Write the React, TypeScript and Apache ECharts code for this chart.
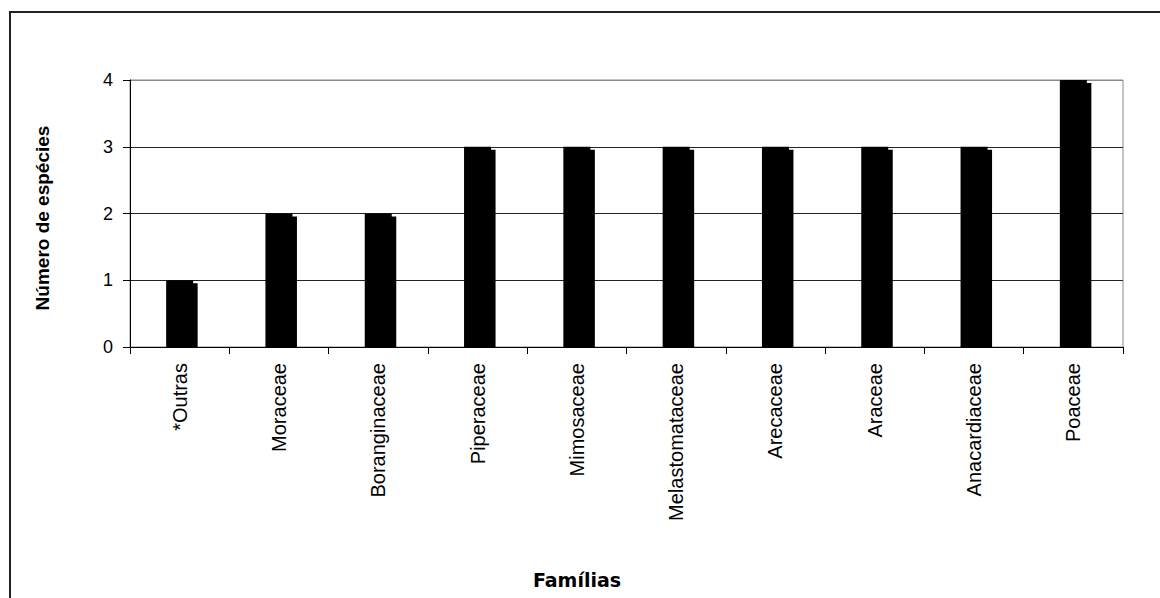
import React, { useEffect, useRef } from "react";
import * as echarts from "echarts";

const categories = [
  "*Outras",
  "Moraceae",
  "Boranginaceae",
  "Piperaceae",
  "Mimosaceae",
  "Melastomataceae",
  "Arecaceae",
  "Araceae",
  "Anacardiaceae",
  "Poaceae",
];
const values = [1, 2, 2, 3, 3, 3, 3, 3, 3, 4];
const yTicks = [0, 1, 2, 3, 4];
const yTitle = "Número de espécies";
const xTitle = "Famílias";

export default function App() {
  const ref = useRef<HTMLDivElement>(null);
  useEffect(() => {
    if (!ref.current) return;
    const chart = echarts.init(ref.current, null, { renderer: "svg" });
    const font = "'Liberation Sans', Arial, sans-serif";
    chart.setOption({
      animation: false,
      backgroundColor: "#fff",
      grid: {
        left: 130,
        right: 37,
        top: 80,
        bottom: 251,
        show: true,
        borderColor: "#8a8a8a",
        borderWidth: 1,
      },
      xAxis: {
        type: "category",
        data: categories,
        boundaryGap: true,
        axisLine: { show: true, lineStyle: { color: "#000", width: 1 } },
        axisTick: { show: true, length: 7, alignWithLabel: false, lineStyle: { color: "#000" } },
        axisLabel: {
          rotate: 90,
          margin: 16,
          interval: 0,
          color: "#000",
          fontSize: 20,
          fontFamily: font,
        },
      },
      yAxis: {
        type: "value",
        min: yTicks[0],
        max: yTicks[yTicks.length - 1],
        interval: 1,
        axisLine: { show: true, lineStyle: { color: "#000", width: 1 } },
        axisTick: { show: true, length: 7, lineStyle: { color: "#000" } },
        axisLabel: { margin: 17, color: "#000", fontSize: 18, fontFamily: font },
        splitLine: {
          show: true,
          lineStyle: { color: ["#222", "#222", "#222", "#222", "#8a8a8a"], width: 1 },
        },
      },
      series: [
        {
          type: "custom",
          data: values.map((v, i) => [i, v]),
          encode: { x: 0, y: 1 },
          renderItem: (params: any, api: any) => {
            const idx = api.value(0);
            const v = api.value(1);
            const top = api.coord([idx, v]);
            const base = api.coord([idx, 0]);
            const w = api.size([1, 0])[0] * 0.272;
            const h = base[1] - top[1];
            return {
              type: "group",
              children: [
                {
                  type: "rect",
                  shape: { x: top[0] - w / 2 + 4.5, y: top[1] + 3, width: w, height: h - 2 },
                  style: { fill: "#000" },
                },
                {
                  type: "rect",
                  shape: { x: top[0] - w / 2, y: top[1], width: w, height: h + 1 },
                  style: { fill: "#000" },
                },
              ],
            };
          },
        },
      ],
      graphic: [
        {
          type: "rect",
          shape: { x: 10, y: 12, width: 1300, height: 800 },
          style: { fill: "none", stroke: "#222", lineWidth: 2 },
          silent: true,
        },
        {
          type: "text",
          x: 42,
          y: 218,
          rotation: Math.PI / 2,
          style: {
            text: yTitle,
            fontSize: 19,
            fontWeight: "bold",
            fontFamily: font,
            fill: "#000",
            textAlign: "center",
            textVerticalAlign: "middle",
          },
        },
        {
          type: "text",
          x: 577,
          y: 580,
          style: {
            text: xTitle,
            fontSize: 19,
            fontWeight: "bold",
            fontFamily: "'DejaVu Sans', sans-serif",
            fill: "#000",
            textAlign: "center",
            textVerticalAlign: "middle",
          },
        },
      ],
    });
    return () => chart.dispose();
  }, []);
  return (
    <div
      ref={ref}
      style={{ position: "absolute", left: 0, top: 0, width: 1160, height: 598 }}
    />
  );
}
